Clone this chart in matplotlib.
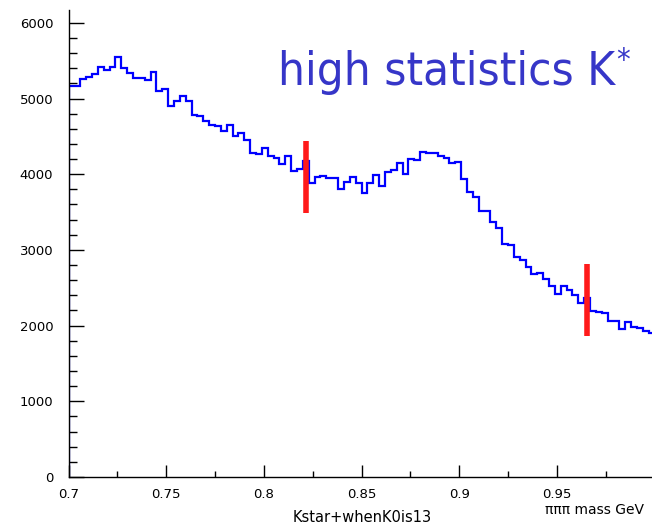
#!/usr/bin/env python
"""Three-pion invariant mass spectrum, K* sample, with the signal window marked."""
import matplotlib

matplotlib.use("Agg")

import matplotlib.pyplot as plt  # noqa: E402
import numpy as np  # noqa: E402
from matplotlib.ticker import FixedLocator, MultipleLocator  # noqa: E402

# ───────────────────────────── Data ──────────────────────────────────────
MASS_LO, MASS_HI, N_BINS = 0.70, 1.00, 100

counts = [
    5160, 5160, 5262, 5288, 5328, 5412, 5372, 5416, 5552, 5403,
    5337, 5275, 5267, 5240, 5346, 5095, 5125, 4905, 4967, 5033,
    4967, 4788, 4771, 4703, 4650, 4641, 4575, 4650, 4498, 4540,
    4452, 4280, 4263, 4352, 4236, 4210, 4131, 4236, 4048, 4069,
    4168, 3884, 3959, 3980, 3955, 3955, 3800, 3901, 3967, 3888,
    3752, 3880, 3989, 3848, 4025, 4055, 4144, 4007, 4205, 4192,
    4293, 4284, 4276, 4244, 4214, 4148, 4157, 3937, 3765, 3695,
    3514, 3518, 3364, 3289, 3082, 3060, 2902, 2862, 2770, 2678,
    2695, 2612, 2523, 2415, 2527, 2466, 2400, 2294, 2360, 2197,
    2184, 2172, 2065, 2065, 1951, 2052, 1982, 1964, 1933, 1898,
]

# signal window edges: (mass, y_low, y_high)
cut_lines = [(0.8216, 3490, 4440), (0.9656, 1866, 2814)]

x_ticks = [0.70, 0.75, 0.80, 0.85, 0.90, 0.95]
x_tick_labels = ["0.7", "0.75", "0.8", "0.85", "0.9", "0.95"]
y_ticks = [0, 1000, 2000, 3000, 4000, 5000, 6000]

# ───────────────────────────── Figure ────────────────────────────────────
fig = plt.figure(figsize=(6.52, 5.23), dpi=100)
ax = fig.add_axes([0.1052, 0.088, 0.8985, 0.893])

edges = np.linspace(MASS_LO, MASS_HI, N_BINS + 1)
ax.stairs(counts, edges, baseline=0, color="#0000ff", linewidth=1.6)

for xm, y0, y1 in cut_lines:
    ax.vlines(xm, y0, y1, color="#ff1a1a", linewidth=4.0, zorder=3)

ax.set_xlim(MASS_LO, MASS_HI)
ax.set_ylim(0, 6170)

# ROOT-like axes: only left/bottom frame, ticks pointing inward
for side in ("top", "right"):
    ax.spines[side].set_visible(False)
for side in ("left", "bottom"):
    ax.spines[side].set_linewidth(1.0)

ax.xaxis.set_major_locator(FixedLocator(x_ticks))
ax.set_xticklabels(x_tick_labels)
ax.xaxis.set_minor_locator(MultipleLocator(0.025))
ax.yaxis.set_major_locator(FixedLocator(y_ticks))
ax.yaxis.set_minor_locator(MultipleLocator(200))

ax.tick_params(axis="x", which="major", direction="in", length=9, width=1,
               pad=8, labelsize=9.5)
ax.tick_params(axis="x", which="minor", direction="in", length=4, width=1)
ax.tick_params(axis="y", which="major", direction="in", length=11, width=1,
               pad=11, labelsize=9.5)
ax.tick_params(axis="y", which="minor", direction="in", length=6, width=1)

# big label, with a small raised asterisk hung off its right edge
title_kw = dict(color="#3636c8", family="DejaVu Sans", fontstretch="condensed")
title = ax.text(0.357, 0.839, "high statistics K", transform=ax.transAxes,
                fontsize=34, ha="left", va="baseline", **title_kw)
ax.annotate("*", xy=(1.0, 1.0), xycoords=title, xytext=(1, 3),
            textcoords="offset points", fontsize=22, ha="left", va="top",
            **title_kw)

fig.text(545 / 652, 1 - 510 / 523, "\u03c0\u03c0\u03c0 mass GeV", fontsize=10,
         ha="left", va="center")
fig.text(362 / 652, 1 - 517 / 523, "Kstar+whenK0is13", fontsize=10.5,
         ha="center", va="center")

fig.savefig("out.png", dpi=100)
